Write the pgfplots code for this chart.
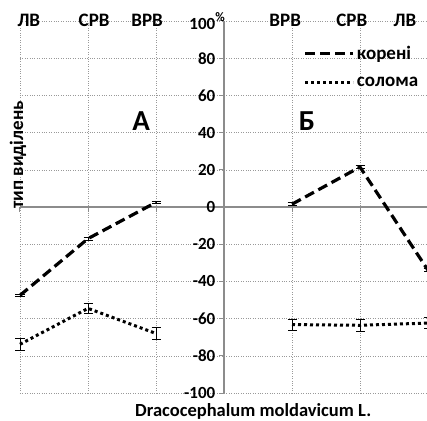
\documentclass[border=0pt]{standalone}
\usepackage{fontspec}
\setmainfont{Carlito}
\usepackage{pgfplots}
\pgfplotsset{compat=1.18}
\begin{document}
\begin{tikzpicture}
\useasboundingbox (-20pt,-27pt) rectangle (407pt,393pt);
\begin{axis}[
  at={(0pt,0pt)}, anchor=south west,
  scale only axis, width=408pt, height=372pt,
  xmin=-3, xmax=3, ymin=-100, ymax=100,
  clip=false,
  axis lines=middle,
  axis line style={-, color=gray!90, line width=1.7pt},
  hide obscured x ticks=false, hide obscured y ticks=false,
  xtick={-3,-2,-1,1,2,3}, xticklabels={},
  ytick={-100,-80,-60,-40,-20,0,20,40,60,80,100},
  yticklabels={-100,-80,-60,-40,-20,0,20,40,60,80,{100\rlap{\raisebox{0.45em}{\fontsize{13}{13}\selectfont\%}}}},
  yticklabel style={font=\bfseries\fontsize{17}{17}\selectfont, inner xsep=3.5pt},
  tick align=outside,
  major tick length=5pt,
  tick style={color=gray!90, line width=1pt},
  grid=major,
  major grid style={dotted, color=gray!80, line width=0.6pt},
  legend style={at={(axis cs:1.17,87)}, anchor=north west, draw=none, fill=none,
    font=\bfseries\fontsize{19}{19}\selectfont, row sep=14pt, inner sep=0pt,
    nodes={inner xsep=2pt, inner ysep=1pt}},
  legend cell align=left,
  legend image code/.code={\draw[#1] (0pt,0pt) -- (48pt,0pt);},
  every axis plot/.append style={black},
  error bars/y dir=both, error bars/y explicit,
  error bars/error mark options={rotate=90, mark size=4.5pt, line width=0.7pt, black, solid},
  error bars/error bar style={line width=0.7pt, solid, black},
]
% корені, left
\addplot[line width=3.2pt, dash pattern=on 10pt off 5pt] coordinates {
  (-3,-47.5) +- (0,0.8)
  (-2,-17) +- (0,0.8)
  (-1,2.5) +- (0,0.8)
};
\addlegendentry{корені}
% солома, left
\addplot[line width=3pt, dash pattern=on 3pt off 3pt] coordinates {
  (-3,-73.8) +- (0,3.2)
  (-2,-54.5) +- (0,2.5)
  (-1,-68) +- (0,3.3)
};
\addlegendentry{солома}
% корені, right
\addplot[forget plot, line width=3.2pt, dash pattern=on 10pt off 5pt] coordinates {
  (1,1.5) +- (0,0.8)
  (2,21.5) +- (0,0.8)
  (3,-34) +- (0,0.8)
};
% солома, right
\addplot[forget plot, line width=3pt, dash pattern=on 3pt off 3pt] coordinates {
  (1,-63.2) +- (0,3)
  (2,-63.6) +- (0,3.3)
  (3,-62.4) +- (0,3)
};
% category labels at the top
\foreach \xx/\lab in {-2.87/ЛВ, -1.91/СРВ, -1.13/ВРВ, 0.9/ВРВ, 1.88/СРВ, 2.66/ЛВ} {
  \edef\tmp{\noexpand\node[font=\noexpand\bfseries\noexpand\fontsize{19}{19}\noexpand\selectfont] at (axis cs:\xx,100.5) {\lab};}
  \tmp
}
\node[font=\bfseries\fontsize{29}{29}\selectfont] at (axis cs:-1.22,46) {А};
\node[font=\bfseries\fontsize{29}{29}\selectfont] at (axis cs:1.22,46) {Б};
\node[rotate=90, font=\bfseries\fontsize{19}{19}\selectfont] at (axis cs:-3.03,28) {тип виділень};
\node[font=\bfseries\fontsize{18.5}{18.5}\selectfont] at (axis cs:0.43,-110) {Dracocephalum moldavicum L.};
\end{axis}
\end{tikzpicture}
\end{document}
